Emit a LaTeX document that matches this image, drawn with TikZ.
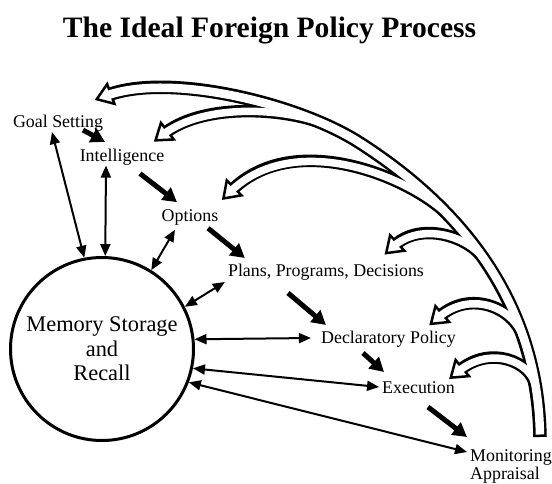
\documentclass[tikz,border=0pt]{standalone}
\usepackage{fontspec}
\setmainfont{Liberation Serif}
\usetikzlibrary{calc,arrows.meta}
\newcommand\bandhead[2]{%
  \filldraw[headst] ($($(#1)!3pt!(#2)$)!10.5pt!90:(#2)$) -- ($(#1)!-12pt!(#2)$) -- ($($(#1)!3pt!(#2)$)!10.5pt!-90:(#2)$) -- cycle;}
\begin{document}
\begin{tikzpicture}[x=1pt,y=-1pt,
  lbl/.style={inner sep=0pt, font=\fontsize{17.9}{20}\selectfont},
  flow/.style={line width=5pt, -{Triangle[length=14pt,width=15pt]}},
  link/.style={line width=2pt, {Triangle[length=12pt,width=10pt]}-{Triangle[length=12pt,width=10pt]}},
  bandb/.style={line width=13.5pt, draw=black},
  bandw/.style={line width=8.5pt, draw=white},
  branchb/.style={line width=12.5pt, draw=black},
  branchw/.style={line width=7.5pt, draw=white},
  headst/.style={fill=white, draw=black, line width=2.5pt, line join=miter}]
\useasboundingbox (0,0) rectangle (552,483);

% title
\node[font=\bfseries\fontsize{29.6}{32}\selectfont, anchor=base, inner sep=0pt] (title) at (269.5,37) {The Ideal Foreign Policy Process};

% labels
\node[lbl, anchor=base] (goal) at (58,127) {Goal Setting};
\node[lbl, anchor=base] (intel) at (122,161.5) {Intelligence};
\node[lbl, anchor=base] (opt) at (190,221.7) {Options};
\node[lbl, anchor=base] (plans) at (326,276) {Plans, Programs, Decisions};
\node[lbl, anchor=base] (decl) at (388.5,343) {Declaratory Policy};
\node[lbl, anchor=base] (exec) at (418.5,393) {Execution};
\node[lbl, anchor=base west] (mon) at (470,461) {Monitoring};
\node[lbl, anchor=base west] (app) at (470,479) {Appraisal};

\node[circle, draw, line width=3pt, minimum size=183pt, inner sep=0pt, align=center,
      font=\fontsize{22.4}{24.5}\selectfont] (mem) at (102,349) {Memory Storage\\and\\Recall};

% feedback band: coordinates
\coordinate (tS) at (540,437);
\coordinate (tA) at (538,320);
\coordinate (tB) at (480,220);
\coordinate (tM) at (360,143);
\coordinate (tC) at (300,104);
\coordinate (tD) at (170,72);
\coordinate (tE) at (108,95);

\coordinate (iS) at (328.7,126); \coordinate (iA) at (290,108); \coordinate (iB) at (205,102); \coordinate (iE) at (165,133);
\coordinate (oS) at (451.5,218.3); \coordinate (oA) at (414,178); \coordinate (oB) at (295,128); \coordinate (oE) at (232,190);
\coordinate (pS) at (484.9,260.3); \coordinate (pA) at (468,235); \coordinate (pB) at (420,222); \coordinate (pE) at (395,245);
\coordinate (dS) at (522.9,336.5); \coordinate (dA) at (513,307); \coordinate (dB) at (470,290); \coordinate (dE) at (440,316);
\coordinate (eS) at (535.3,385.5); \coordinate (eA) at (531,361.5); \coordinate (eB) at (490,345); \coordinate (eE) at (460,370);

% black layer
\draw[bandb] (tS) .. controls (tA) and (tB) .. (tM) .. controls (tC) and (tD) .. (tE);
\foreach \b in {i,o,p,d,e}
  \draw[branchb] (\b S) .. controls (\b A) and (\b B) .. (\b E);
% heads
\bandhead{tE}{tD}
\foreach \b in {i,o,p,d,e}
  {\bandhead{\b E}{\b B}}
% white layer
\draw[bandw, shorten <=2.5pt, shorten >=-3pt] (tS) .. controls (tA) and (tB) .. (tM) .. controls (tC) and (tD) .. (tE);
\foreach \b in {i,o,p,d,e}
  \draw[branchw, shorten >=-3pt] (\b S) .. controls (\b A) and (\b B) .. (\b E);

% process flow arrows
\draw[flow] ([xshift=25pt,yshift=1pt]goal.south) -- ([xshift=-17pt,yshift=7pt]intel.north);
\draw[flow] ([xshift=18pt,yshift=-8pt]intel.south) -- ([xshift=-13pt,yshift=7.5pt]opt.north);
\draw[flow] ([xshift=18pt,yshift=-2.5pt]opt.south) -- ([xshift=17pt,yshift=18pt]plans.base west);
\draw[flow] ([xshift=-38pt,yshift=-17pt]plans.base) -- ([xshift=5pt,yshift=18pt]decl.base west);
\draw[flow] ([xshift=-25.5pt,yshift=-10pt]decl.base) -- ([xshift=2pt,yshift=21pt]exec.base west);
\draw[flow] ([xshift=9.5pt,yshift=-14pt]exec.base) -- ([xshift=-3pt,yshift=24pt]mon.base west);

% memory links
\draw[link] (mem.101) -- ([xshift=-6pt,yshift=-1pt]goal.south);
\draw[link] (mem.88) -- ([xshift=-16pt]intel.south);
\draw[link] (mem.58) -- ([xshift=-15pt,yshift=-4pt]opt.south);
\draw[link] (mem.27) -- ([xshift=-3pt,yshift=-6pt]plans.base west);
\draw[link] (mem.6) -- ([xshift=-10pt,yshift=5pt]decl.base west);
\draw[link] (mem.-12) -- ([xshift=-3pt,yshift=6pt]exec.base west);
\draw[link] (mem.-21) -- ([xshift=-3pt,yshift=9pt]mon.base west);
\end{tikzpicture}
\end{document}
